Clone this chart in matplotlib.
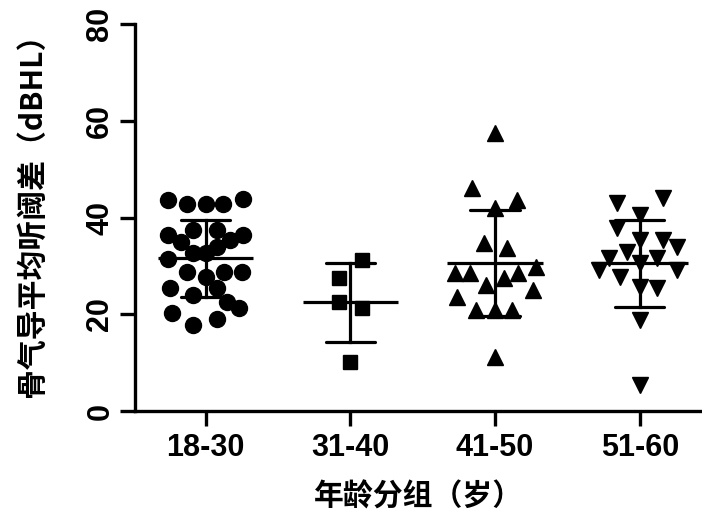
import matplotlib.pyplot as plt
import numpy as np

# 年龄分组
groups = ['18-30', '31-40', '41-50', '51-60']

# 各组散点数值 (dBHL) 及横向错开量
g1_vals = [43.6, 42.8, 42.8, 42.8, 43.8, 36.4, 34.9, 37.4, 37.4, 35.3, 36.4,
           32.6, 32.6, 33.9, 31.4, 28.7, 27.7, 28.7, 28.7, 25.4, 24.0, 25.4,
           22.5, 21.3, 20.2, 17.8, 19.0]
g1_off = [-0.26, -0.13, 0.0, 0.12, 0.26, -0.26, -0.17, -0.09, 0.08, 0.17, 0.26,
          -0.09, 0.0, 0.08, -0.26, -0.13, 0.0, 0.13, 0.25, -0.25, -0.09, 0.08,
          0.15, 0.23, -0.23, -0.09, 0.08]

g2_vals = [31.2, 27.5, 22.5, 21.3, 10.1]
g2_off = [0.08, -0.08, -0.08, 0.08, 0.0]

g3_vals = [57.4, 46.1, 42.1, 43.6, 34.7, 33.7, 28.5, 28.5, 26.0, 27.5, 28.5,
           29.8, 23.6, 25.0, 20.9, 20.9, 20.9, 11.2]
g3_off = [0.0, -0.16, 0.0, 0.15, -0.08, 0.08, -0.28, -0.17, -0.06, 0.06, 0.16,
          0.28, -0.26, 0.26, -0.13, 0.0, 0.12, 0.0]

g4_vals = [43.0, 44.0, 40.5, 37.8, 35.3, 35.3, 33.9, 32.9, 31.6, 30.6, 31.6,
           29.1, 27.7, 29.1, 25.6, 25.4, 18.8, 5.4]
g4_off = [-0.16, 0.16, 0.0, -0.16, 0.0, 0.16, 0.26, -0.09, -0.21, 0.0, 0.12,
          -0.28, -0.14, 0.26, 0.0, 0.12, 0.0, 0.0]

# 均值与标准差
means = [31.6, 22.5, 30.6, 30.6]
sds = [8.0, 8.1, 11.0, 9.0]

markers = ['o', 's', '^', 'v']
msizes = [11.5, 10.5, 11, 11]

fig = plt.figure(figsize=(7.02, 5.14), dpi=100)
ax = fig.add_axes([0.192, 0.2, 0.808, 0.753])

all_vals = [g1_vals, g2_vals, g3_vals, g4_vals]
all_off = [g1_off, g2_off, g3_off, g4_off]
for i, (vals, off) in enumerate(zip(all_vals, all_off)):
    xs = i + np.array(off)
    ax.plot(xs, vals, linestyle='none', marker=markers[i], ms=msizes[i],
            color='black', zorder=2, clip_on=False)
    m, s = means[i], sds[i]
    ax.plot([i - 0.33, i + 0.33], [m, m], color='black', lw=2.3, zorder=3,
            solid_capstyle='butt')
    ax.plot([i, i], [m - s, m + s], color='black', lw=2.3, zorder=3)
    for y in (m - s, m + s):
        ax.plot([i - 0.17, i + 0.17], [y, y], color='black', lw=2.3, zorder=3,
                solid_capstyle='round')

ax.set_xlim(-0.49, 3.43)
ax.set_ylim(0, 80)
ax.set_yticks([0, 20, 40, 60, 80])
ax.set_xticks(range(4))
ax.set_xticklabels(groups)

for sp in ['top', 'right']:
    ax.spines[sp].set_visible(False)
for sp in ['left', 'bottom']:
    ax.spines[sp].set_linewidth(2.4)

ax.tick_params(axis='both', length=11, width=2.4, direction='out')
ax.tick_params(axis='x', pad=5)
ax.tick_params(axis='y', pad=3)
for lab in ax.get_xticklabels():
    lab.set_fontfamily('Liberation Sans')
    lab.set_fontweight('bold')
    lab.set_fontsize(22)
for lab in ax.get_yticklabels():
    lab.set_fontfamily('Liberation Sans')
    lab.set_fontweight('bold')
    lab.set_fontsize(22)
    lab.set_rotation(90)
    lab.set_va('center')

cjk = ['Noto Sans CJK SC', 'DejaVu Sans']
ax.set_xlabel('年龄分组（岁）', family=cjk, fontsize=21.5, fontweight='bold',
              labelpad=13)
ax.set_ylabel('骨气导平均听阈差（dBHL）', family=cjk, fontsize=21.5,
              fontweight='bold')
ax.yaxis.set_label_coords(-0.155, 0.525)

fig.savefig('out.png', dpi=100)
